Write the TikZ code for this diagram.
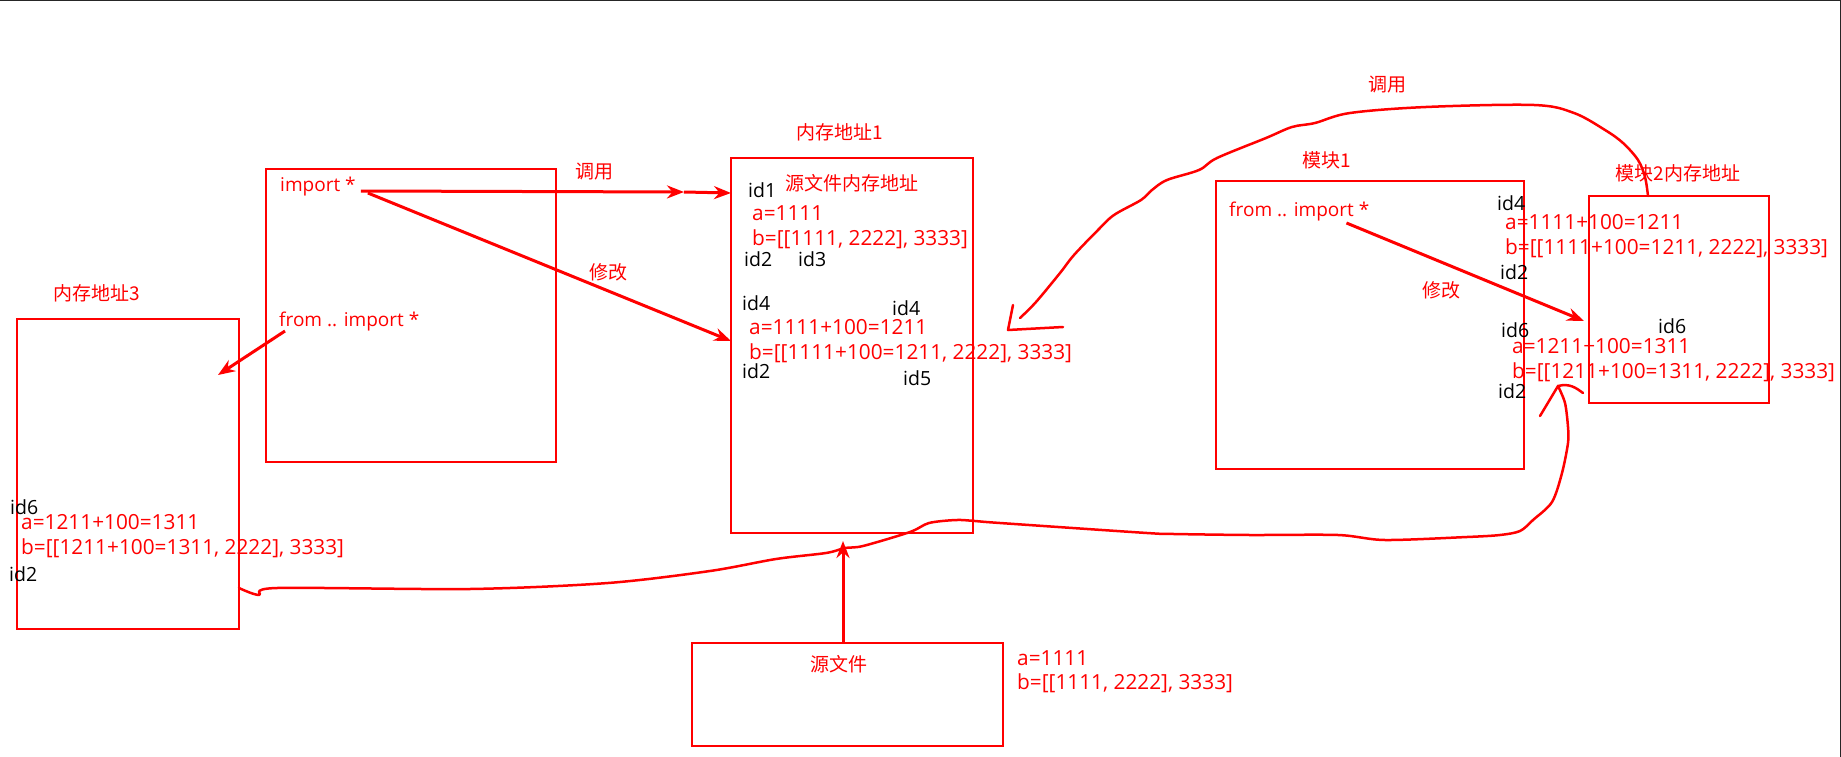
\documentclass[tikz,border=0pt]{standalone}
\usepackage{fontspec}
\setmainfont{Open Sans}
\newfontfamily\cjkfont{Noto Sans CJK SC}
\usetikzlibrary{arrows.meta,calc}
\begin{document}
\begin{tikzpicture}[x=1pt,y=-1pt,
  box/.style={draw=red,line width=2pt,anchor=north west,inner sep=0pt,outer sep=0pt},
  cjk/.style={text=red,font=\cjkfont\fontsize{19}{19}\selectfont,inner sep=0pt},
  rtxt/.style={text=red,font=\fontsize{20.8}{21}\selectfont,anchor=west,inner sep=0pt},
  stmt/.style={text=red,font=\fontsize{19}{19}\selectfont,anchor=west,inner sep=0pt},
  idtxt/.style={text=black,font=\fontsize{19.5}{20}\selectfont,anchor=west,inner sep=0pt},
  arr/.style={draw=red,line width=3pt,-{Stealth[length=17pt,width=13pt]}},
  hand/.style={draw=red,line width=2.5pt,line cap=round,line join=round},
]
\useasboundingbox (0,0) rectangle (1841,757);

% outer frame (top and right edges only)
\draw[line width=1.5pt,black!85] (0,0.75) -- (1840.25,0.75) -- (1840.25,757);

% boxes
\node[box,minimum width=290pt,minimum height=293pt] (bA) at (266,169) {};
\node[box,minimum width=242pt,minimum height=375pt] (b1) at (731,158) {};
\node[box,minimum width=222pt,minimum height=310pt] (b3) at (17,319) {};
\node[box,minimum width=311pt,minimum height=103pt] (bsrc) at (692,643) {};
\node[box,minimum width=308pt,minimum height=288pt] (bm1) at (1216,181) {};
\node[box,minimum width=180pt,minimum height=207pt] (bm2) at (1589,196) {};

% headings
\node[cjk] (h1) at (840,132) {内存地址1};
\node[cjk] (h1b) at (852,183) {源文件内存地址};
\node[cjk] (h3) at (97,293) {内存地址3};
\node[cjk] (hsrc) at (839,664) {源文件};
\node[cjk] (hm1) at (1327,160) {模块1};
\node[cjk] (hm2) at (1678,173) {模块2内存地址};
\node[cjk] (lcall1) at (594,172) {调用};
\node[cjk] (lmod1) at (608,272) {修改};
\node[cjk] (lcall2) at (1387,85) {调用};
\node[cjk] (lmod2) at (1441,290) {修改};

% statements
\node[stmt] (imp) at (280,187) {import *};
\node[stmt] (fimp) at (279,322) {from .. import *};
\node[stmt] (fimp2) at (1229,212) {from .. import *};

% memory address 1
\node[idtxt] at (748,190) {id1};
\node[rtxt] at (752,213) {a=1111};
\node[rtxt] at (752,239) {b=[[1111, 2222], 3333]};
\node[idtxt] at (744,259) {id2};
\node[idtxt] at (798,259) {id3};
\node[idtxt] at (742,303) {id4};
\node[idtxt] at (892,308) {id4};
\node[rtxt] at (749,327) {a=1111+100=1211};
\node[rtxt] at (749,353) {b=[[1111+100=1211, 2222], 3333]};
\node[idtxt] at (742,371) {id2};
\node[idtxt] at (903,378) {id5};

% memory address 3
\node[idtxt] at (10,507) {id6};
\node[rtxt] at (21,522) {a=1211+100=1311};
\node[rtxt] at (21,548) {b=[[1211+100=1311, 2222], 3333]};
\node[idtxt] at (9,574) {id2};

% source file values
\node[rtxt] at (1017,658) {a=1111};
\node[rtxt] at (1017,683) {b=[[1111, 2222], 3333]};

% module 2 memory
\node[idtxt] at (1497,203) {id4};
\node[rtxt] at (1505,222) {a=1111+100=1211};
\node[rtxt] at (1505,248) {b=[[1111+100=1211, 2222], 3333]};
\node[idtxt] at (1500,272) {id2};
\node[idtxt] at (1501,330) {id6};
\node[idtxt] at (1658,326) {id6};
\node[rtxt] at (1512,346) {a=1211+100=1311};
\node[rtxt] at (1512,372) {b=[[1211+100=1311, 2222], 3333]};
\node[idtxt] at (1498,391) {id2};

% straight arrows
\coordinate (callmid) at (684,192);
\draw[arr] ([xshift=5pt,yshift=-4pt]imp.east) -- (callmid);
\draw[arr] (callmid) -- ([yshift=-35pt]b1.north west);
\draw[arr] ([xshift=12pt,yshift=-6pt]imp.east) -- ([yshift=-183pt]b1.north west);
\draw[arr] ([xshift=6pt,yshift=-9pt]fimp.west) -- ([xshift=-21pt,yshift=-56pt]b3.north east);
\draw[arr] (bsrc.north -| 843,0) -- (843,541);
\draw[arr] ([xshift=-23pt,yshift=-11pt]fimp2.east) -- (1584,321);

% hand-drawn call curve from module 2 back to memory address 1
\coordinate (m2top) at (1648,196);
\draw[hand] plot[smooth,tension=0.55] coordinates {
  (m2top) (1645,177) (1638,160) (1623,143) (1605,130) (1574,113) (1534,105)
  (1426,107) (1350,113) (1315,123) (1292,127) (1266,138) (1217,158) (1199,170)
  (1167,180) (1152,190) (1141,200) (1114,215) (1098,230) (1074,255) (1060,273)
  (1036,302) (1020,318)};
\draw[hand] (1013,305) -- (1008,330) -- (1063,327);

% hand-drawn curve from memory address 3 to module 2
\coordinate (m3out) at (239,588);
\coordinate (m2tip) at (1558,386);
\draw[hand] plot[smooth,tension=0.5] coordinates {
  (m3out) (259,595) (277,588) (470,589) (608,583) (710,571) (776,559) (826,553)
  (845,548) (863,546) (910,532) (929,523) (956,520) (975,521) (1000,523)
  (1147,533) (1174,534) (1250,535) (1338,535) (1385,540) (1467,537) (1500,535)
  (1520,531) (1533,520) (1552,502) (1562,473) (1568,443) (1568,427) (1565,403)
  (m2tip)};
\draw[hand] (1540,416) -- (m2tip) .. controls (1570,383) and (1576,388) .. (1583,393);

\end{tikzpicture}
\end{document}
